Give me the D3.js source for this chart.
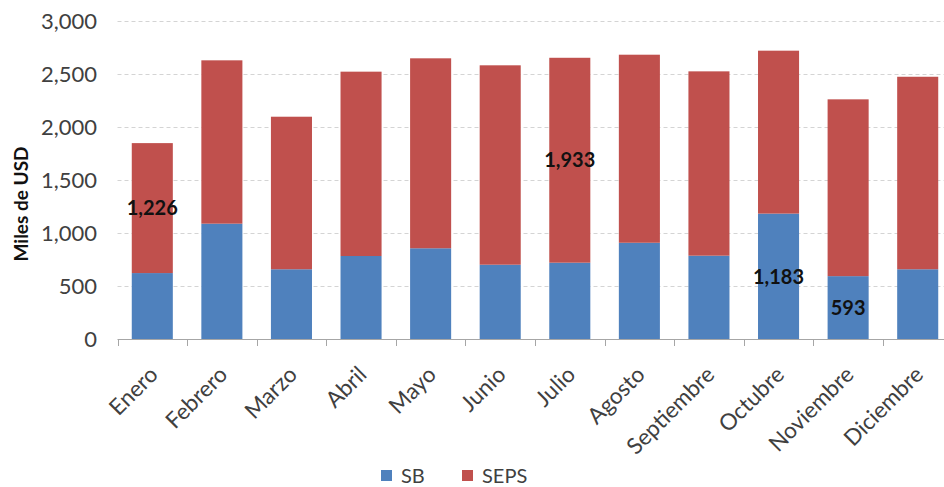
<!DOCTYPE html>
<html>
<head>
<meta charset="utf-8">
<script src="https://cdn.jsdelivr.net/npm/d3@7"></script>
<style>
  body { margin: 0; background: #fff; }
  svg { display: block; font-family: Lato, "Open Sans", sans-serif; }
  .grid line { stroke: #d4d4d4; stroke-dasharray: 4,3; }
  .tick-label { fill: #404040; font-size: 22px; }
  .month-label { fill: #404040; font-size: 22.5px; }
  .data-label { fill: #111; font-size: 20px; font-weight: bold; }
</style>
</head>
<body>
<div id="chart"></div>
<script>
// months on the x axis
var months = ["Enero", "Febrero", "Marzo", "Abril", "Mayo", "Junio", "Julio",
              "Agosto", "Septiembre", "Octubre", "Noviembre", "Diciembre"];
// Miles de USD
var sb   = [622, 1088, 658, 783, 856, 701, 720, 908, 786, 1183, 593, 658];
var seps = [1226, 1541, 1439, 1739, 1792, 1881, 1933, 1774, 1739, 1537, 1668, 1816];
var seriesNames = ["SB", "SEPS"];
var seriesColors = ["#4F81BD", "#C0504D"];
var yTicks = [0, 500, 1000, 1500, 2000, 2500, 3000];
// which segments carry a value label
var labelled = [
  { month: "Enero", series: "SEPS" },
  { month: "Julio", series: "SEPS" },
  { month: "Octubre", series: "SB" },
  { month: "Noviembre", series: "SB" }
];

var width = 944, height = 487;

var svg = d3.select("#chart").append("svg")
    .attr("width", width)
    .attr("height", height);

var x = d3.scaleBand()
    .domain(months)
    .range([117.5, 952.5])
    .paddingInner(0.41)
    .paddingOuter(0.205);

var y = d3.scaleLinear()
    .domain([0, 3000])
    .range([339, 21]);

var fmt = d3.format(",");

var rows = months.map(function(m, i) {
  return { month: m, SB: sb[i], SEPS: seps[i] };
});
var stacked = d3.stack().keys(seriesNames)(rows);

// gridlines
svg.append("g").attr("class", "grid")
  .selectAll("line")
  .data(yTicks.filter(function(t) { return t > 0; }))
  .enter().append("line")
    .attr("x1", x.range()[0])
    .attr("x2", x.range()[1])
    .attr("y1", function(d) { return Math.round(y(d)) + 0.5; })
    .attr("y2", function(d) { return Math.round(y(d)) + 0.5; });

// y tick labels
svg.append("g")
  .selectAll("text")
  .data(yTicks)
  .enter().append("text")
    .attr("class", "tick-label")
    .attr("x", 97)
    .attr("y", function(d) { return y(d); })
    .attr("dy", "0.36em")
    .attr("text-anchor", "end")
    .text(fmt);

// y axis title
svg.append("text")
    .attr("transform", "translate(28,204) rotate(-90)")
    .attr("text-anchor", "middle")
    .style("font-size", "19px")
    .style("font-weight", "bold")
    .style("fill", "#111")
    .text("Miles de USD");

// bars
var layer = svg.append("g").selectAll("g")
  .data(stacked)
  .enter().append("g")
    .attr("fill", function(d, i) { return seriesColors[i]; });

layer.selectAll("rect")
  .data(function(d) { return d; })
  .enter().append("rect")
    .attr("x", function(d) { return x(d.data.month); })
    .attr("width", x.bandwidth())
    .attr("y", function(d) { return y(d[1]); })
    .attr("height", function(d) { return y(d[0]) - y(d[1]); });

// x axis line + ticks at category boundaries
var step = x.step();
var bounds = months.map(function(m) { return x(m) - step * x.paddingInner() / 2; });
bounds.push(x.range()[1]);
var axis = svg.append("g");
axis.append("line")
    .attr("x1", x.range()[0]).attr("x2", x.range()[1])
    .attr("y1", y(0) + 0.5).attr("y2", y(0) + 0.5)
    .attr("stroke", "#a6a6a6");
axis.selectAll("line.tk")
  .data(bounds)
  .enter().append("line")
    .attr("class", "tk")
    .attr("x1", function(d) { return Math.round(d) + 0.5; })
    .attr("x2", function(d) { return Math.round(d) + 0.5; })
    .attr("y1", y(0))
    .attr("y2", y(0) + 7)
    .attr("stroke", "#a6a6a6");

// month labels
svg.append("g")
  .selectAll("text")
  .data(months)
  .enter().append("text")
    .attr("class", "month-label")
    .attr("text-anchor", "end")
    .attr("transform", function(d) {
      return "translate(" + (x(d) + x.bandwidth() / 2 + 7) + "," + 376 + ") rotate(-45)";
    })
    .text(function(d) { return d; });

// value labels
svg.append("g")
  .selectAll("text")
  .data(labelled)
  .enter().append("text")
    .attr("class", "data-label")
    .attr("text-anchor", "middle")
    .attr("dy", "0.36em")
    .attr("x", function(d) { return x(d.month) + x.bandwidth() / 2; })
    .attr("y", function(d) {
      var s = stacked[seriesNames.indexOf(d.series)][months.indexOf(d.month)];
      return (y(s[0]) + y(s[1])) / 2;
    })
    .text(function(d) {
      var i = months.indexOf(d.month);
      return fmt(d.series === "SB" ? sb[i] : seps[i]);
    });

// legend
var legendX = [381, 462];
var legend = svg.append("g").selectAll("g")
  .data(seriesNames)
  .enter().append("g")
    .attr("transform", function(d, i) { return "translate(" + legendX[i] + ",470)"; });
legend.append("rect")
    .attr("width", 11).attr("height", 11)
    .attr("fill", function(d, i) { return seriesColors[i]; });
legend.append("text")
    .attr("x", 20)
    .attr("y", 6)
    .attr("dy", "0.36em")
    .style("font-size", "20px")
    .style("fill", "#404040")
    .text(function(d) { return d; });
</script>
</body>
</html>
